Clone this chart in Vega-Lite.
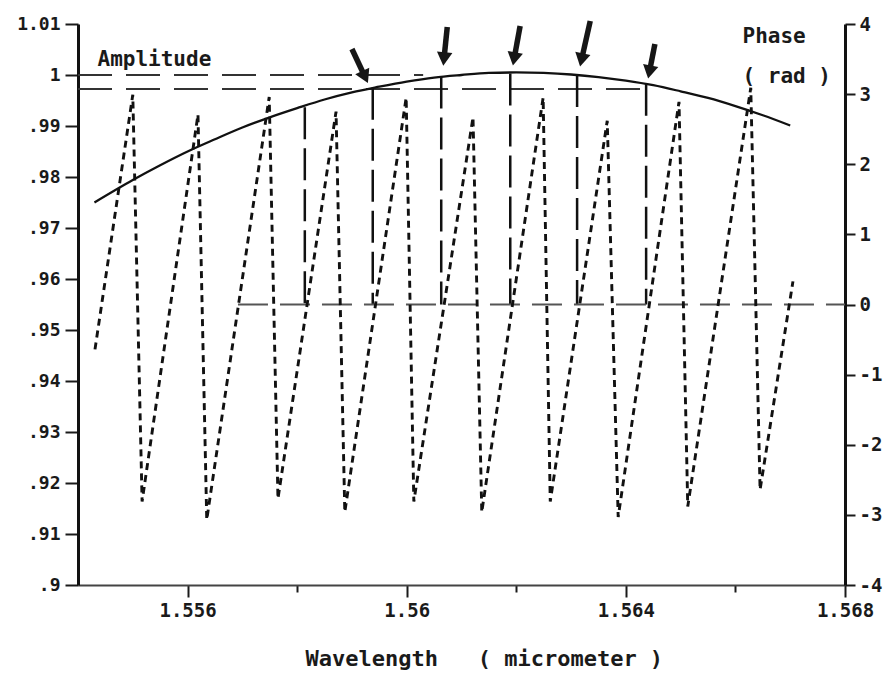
{
  "$schema": "https://vega.github.io/schema/vega-lite/v6.json",
  "width": 767,
  "height": 561,
  "autosize": {"type": "none"},
  "padding": {"left": 78, "top": 24, "right": 47, "bottom": 88},
  "background": "white",
  "config": {
    "view": {"stroke": null},
    "font": "DejaVu Sans Mono",
    "axis": {
      "grid": false,
      "labelFont": "DejaVu Sans Mono",
      "labelFontWeight": "bold",
      "labelFontSize": 18,
      "labelColor": "#1a1a1a",
      "labelOverlap": false,
      "labelFlush": false,
      "titleFont": "DejaVu Sans Mono",
      "titleFontWeight": "bold",
      "titleColor": "#1a1a1a",
      "tickColor": "#1a1a1a",
      "tickWidth": 2
    }
  },
  "datasets": {
    "amplitude": [
      {"wl": 1.5543, "amp": 0.9750},
      {"wl": 1.5550, "amp": 0.9794},
      {"wl": 1.5555, "amp": 0.9823},
      {"wl": 1.5560, "amp": 0.9850},
      {"wl": 1.5565, "amp": 0.9874},
      {"wl": 1.5570, "amp": 0.9897},
      {"wl": 1.5575, "amp": 0.9917},
      {"wl": 1.5580, "amp": 0.9935},
      {"wl": 1.5585, "amp": 0.9952},
      {"wl": 1.5590, "amp": 0.9966},
      {"wl": 1.5595, "amp": 0.9977},
      {"wl": 1.5600, "amp": 0.9987},
      {"wl": 1.5605, "amp": 0.9995},
      {"wl": 1.5610, "amp": 1.0000},
      {"wl": 1.5615, "amp": 1.0004},
      {"wl": 1.5620, "amp": 1.0005},
      {"wl": 1.5625, "amp": 1.0004},
      {"wl": 1.5630, "amp": 1.0001},
      {"wl": 1.5635, "amp": 0.9996},
      {"wl": 1.5640, "amp": 0.9989},
      {"wl": 1.5645, "amp": 0.9980},
      {"wl": 1.5650, "amp": 0.9968},
      {"wl": 1.5655, "amp": 0.9955},
      {"wl": 1.5660, "amp": 0.9939},
      {"wl": 1.5665, "amp": 0.9921},
      {"wl": 1.5670, "amp": 0.9901}
    ],
    "levels": [
      {"wl": 1.5540, "wl_end": 1.5603, "amp": 1.0000},
      {"wl": 1.5540, "wl_end": 1.5644, "amp": 0.99725}
    ],
    "zero_crossings": [
      {"wl": 1.55814, "amp": 0.9937},
      {"wl": 1.55938, "amp": 0.9975},
      {"wl": 1.56063, "amp": 0.9997},
      {"wl": 1.56189, "amp": 1.0003},
      {"wl": 1.56311, "amp": 1.0000},
      {"wl": 1.56437, "amp": 0.9983}
    ],
    "arrow_shafts": [
      {"wl": 1.55900, "amp": 1.00510, "wl_end": 1.55924, "amp_end": 0.99961},
      {"wl": 1.56074, "amp": 1.00941, "wl_end": 1.56068, "amp_end": 1.00314},
      {"wl": 1.56207, "amp": 1.00961, "wl_end": 1.56196, "amp_end": 1.00314},
      {"wl": 1.56335, "amp": 1.01059, "wl_end": 1.56319, "amp_end": 1.00294},
      {"wl": 1.56453, "amp": 1.00608, "wl_end": 1.56443, "amp_end": 1.00059}
    ],
    "arrow_heads": [
      {"wl": 1.55924, "amp": 0.99961, "tilt": -25},
      {"wl": 1.56068, "amp": 1.00314, "tilt": 6},
      {"wl": 1.56196, "amp": 1.00314, "tilt": 10},
      {"wl": 1.56319, "amp": 1.00294, "tilt": 12},
      {"wl": 1.56443, "amp": 1.00059, "tilt": 11}
    ],
    "phase": [
      {"wl": 1.55431, "phase": -0.64},
      {"wl": 1.55500, "phase": 2.99},
      {"wl": 1.55517, "phase": -2.81},
      {"wl": 1.55619, "phase": 2.71},
      {"wl": 1.55635, "phase": -3.07},
      {"wl": 1.55749, "phase": 2.96},
      {"wl": 1.55765, "phase": -2.77},
      {"wl": 1.55871, "phase": 2.75},
      {"wl": 1.55887, "phase": -2.96},
      {"wl": 1.55999, "phase": 2.95},
      {"wl": 1.56013, "phase": -2.81},
      {"wl": 1.56121, "phase": 2.67},
      {"wl": 1.56137, "phase": -2.96},
      {"wl": 1.56249, "phase": 2.95},
      {"wl": 1.56262, "phase": -2.81},
      {"wl": 1.56366, "phase": 2.62},
      {"wl": 1.56386, "phase": -3.03},
      {"wl": 1.56497, "phase": 2.89},
      {"wl": 1.56513, "phase": -2.88},
      {"wl": 1.56628, "phase": 3.09},
      {"wl": 1.56645, "phase": -2.64},
      {"wl": 1.56705, "phase": 0.33}
    ],
    "phase_zero": [
      {"wl": 1.55692, "wl_end": 1.5680, "phase": 0}
    ]
  },
  "encoding": {
    "x": {
      "field": "wl",
      "type": "quantitative",
      "scale": {"domain": [1.554, 1.568], "nice": false, "zero": false},
      "axis": {
        "values": [1.556, 1.558, 1.56, 1.562, 1.564, 1.566, 1.568],
        "labelExpr": "indexof([1.556, 1.56, 1.564, 1.568], datum.value) >= 0 ? format(datum.value, '~g') : ''",
        "tickSize": {"condition": {"test": "indexof([1.556, 1.56, 1.564, 1.568], datum.value) >= 0", "value": 12}, "value": 7},
        "labelFontSize": 19,
        "labelPadding": 4,
        "domainColor": "#444444",
        "domainWidth": 2,
        "title": "Wavelength\u00a0\u00a0\u00a0( micrometer )",
        "titleFontSize": 22,
        "titleAlign": "left",
        "titleBaseline": "alphabetic",
        "titleX": 227,
        "titleY": 80
      }
    }
  },
  "layer": [
    {
      "encoding": {
        "y": {
          "field": "amp",
          "type": "quantitative",
          "scale": {"domain": [0.9, 1.01], "nice": false, "zero": false},
          "axis": {
            "orient": "left",
            "values": [0.9, 0.91, 0.92, 0.93, 0.94, 0.95, 0.96, 0.97, 0.98, 0.99, 1, 1.01],
            "labelExpr": "datum.value >= 1 ? format(datum.value, '.2~f') : slice(format(datum.value, '.2~f'), 1)",
            "tickSize": 13,
            "labelPadding": 5,
            "domainColor": "#111111",
            "domainWidth": 3,
            "title": "Amplitude",
            "titleFontSize": 21,
            "titleAngle": 0,
            "titleAlign": "left",
            "titleBaseline": "alphabetic",
            "titleX": 19,
            "titleY": 41
          }
        }
      },
      "layer": [
        {
          "data": {"name": "levels"},
          "mark": {"type": "rule", "stroke": "#333333", "strokeWidth": 2, "strokeDash": [34, 14]},
          "encoding": {"x2": {"field": "wl_end"}}
        },
        {
          "data": {"name": "zero_crossings"},
          "mark": {"type": "rule", "stroke": "#111111", "strokeWidth": 2.5, "strokeDash": [32, 9]},
          "encoding": {"y2": {"datum": 0.955}}
        },
        {
          "data": {"name": "amplitude"},
          "mark": {"type": "line", "stroke": "#111111", "strokeWidth": 2.3, "interpolate": "monotone"}
        },
        {
          "data": {"name": "arrow_shafts"},
          "mark": {"type": "rule", "stroke": "#161616", "strokeWidth": 5.5, "strokeCap": "butt"},
          "encoding": {"x2": {"field": "wl_end"}, "y2": {"field": "amp_end"}}
        },
        {
          "data": {"name": "arrow_heads"},
          "mark": {"type": "point", "shape": "triangle-down", "filled": true, "size": 240, "color": "#161616", "opacity": 1},
          "encoding": {"angle": {"field": "tilt", "type": "quantitative", "scale": null}}
        }
      ]
    },
    {
      "encoding": {
        "y": {
          "field": "phase",
          "type": "quantitative",
          "scale": {"domain": [-4, 4], "nice": false, "zero": false},
          "axis": {
            "orient": "right",
            "values": [-4, -3, -2, -1, 0, 1, 2, 3, 4],
            "labelExpr": "'' + datum.value",
            "tickSize": 10,
            "labelPadding": 4,
            "labelFontSize": 19,
            "domainColor": "#111111",
            "domainWidth": 3,
            "title": ["Phase", "( rad )"],
            "titleFontSize": 21,
            "titleAngle": 0,
            "titleAlign": "left",
            "titleBaseline": "alphabetic",
            "titleLineHeight": 40,
            "titleX": -103,
            "titleY": 18
          }
        }
      },
      "layer": [
        {
          "data": {"name": "phase_zero"},
          "mark": {"type": "rule", "stroke": "#555555", "strokeWidth": 1.8, "strokeDash": [30, 12]},
          "encoding": {"x2": {"field": "wl_end"}}
        },
        {
          "data": {"name": "phase"},
          "mark": {"type": "line", "stroke": "#111111", "strokeWidth": 2.9, "strokeDash": [7, 5]}
        }
      ]
    }
  ],
  "resolve": {"scale": {"y": "independent"}}
}
